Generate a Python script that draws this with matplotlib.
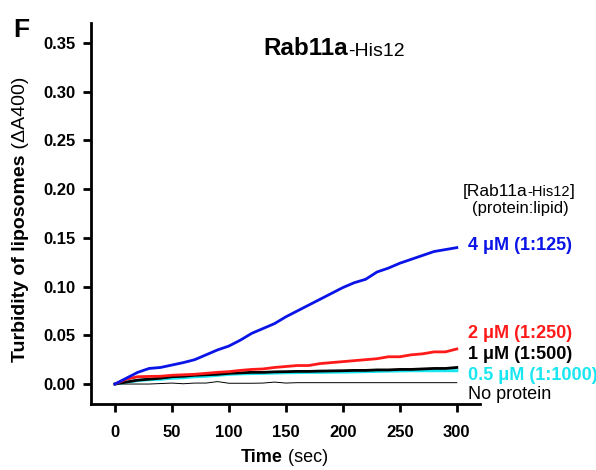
import matplotlib.pyplot as plt
import numpy as np

plt.rcParams['font.family'] = ['Liberation Sans', 'DejaVu Sans']

# Time points (sec)
time = [0, 10, 20, 30, 40, 50, 60, 70, 80, 90, 100, 110, 120, 130, 140, 150,
        160, 170, 180, 190, 200, 210, 220, 230, 240, 250, 260, 270, 280, 290, 300]

# Turbidity readings (dA400)
uM4 = [0.000, 0.006, 0.012, 0.016, 0.017, 0.0195, 0.022, 0.025, 0.030, 0.035,
       0.039, 0.045, 0.052, 0.057, 0.062, 0.069, 0.075, 0.081, 0.087, 0.093,
       0.099, 0.104, 0.1075, 0.115, 0.119, 0.124, 0.128, 0.132, 0.136, 0.138, 0.140]
uM2 = [0.000, 0.005, 0.0075, 0.0078, 0.008, 0.009, 0.0095, 0.010, 0.011, 0.012,
       0.0127, 0.014, 0.015, 0.0155, 0.017, 0.018, 0.019, 0.019, 0.021, 0.022,
       0.023, 0.024, 0.025, 0.026, 0.028, 0.028, 0.030, 0.031, 0.033, 0.033, 0.036]
uM1 = [0.000, 0.002, 0.004, 0.005, 0.006, 0.0075, 0.008, 0.009, 0.0095, 0.010,
       0.011, 0.0115, 0.012, 0.012, 0.0125, 0.0127, 0.013, 0.013, 0.0133, 0.0135,
       0.0137, 0.014, 0.014, 0.0145, 0.0145, 0.015, 0.015, 0.0155, 0.016, 0.016, 0.017]
uM05 = [0.000, 0.002, 0.0035, 0.0045, 0.005, 0.006, 0.0065, 0.0075, 0.008, 0.009,
        0.010, 0.0105, 0.0108, 0.011, 0.0113, 0.0116, 0.0118, 0.012, 0.012, 0.0122,
        0.0123, 0.0125, 0.0128, 0.013, 0.0133, 0.0135, 0.0137, 0.0137, 0.0137, 0.0137, 0.0137]
no_protein = [0.000, 0.000, 0.000, 0.000, 0.0005, 0.001, 0.0003, 0.001, 0.001, 0.0025,
              0.0008, 0.0008, 0.0008, 0.001, 0.002, 0.001, 0.0014, 0.0014, 0.0014, 0.0014,
              0.0014, 0.0014, 0.0014, 0.0014, 0.0014, 0.0014, 0.0014, 0.0014, 0.0014, 0.0014, 0.0014]

labels = ['4 \u03bcM (1:125)', '2 \u03bcM (1:250)', '1 \u03bcM (1:500)',
          '0.5 \u03bcM (1:1000)', 'No protein']
label_y = [0.1417, 0.052, 0.030, 0.009, -0.011]
colors = ['#0a14e6', '#ff1a1a', '#000000', '#19e6f0', '#000000']

fig = plt.figure(figsize=(5.96, 4.70), dpi=100)
ax = fig.add_axes([0.1527, 0.1404, 0.652, 0.8106])

# draw order: no protein first, then cyan, black, red, blue
ax.plot(time, no_protein, color='black', lw=0.7)
ax.plot(time, uM05, color=colors[3], lw=2.2)
ax.plot(time, uM1, color=colors[2], lw=2.0)
ax.plot(time, uM2, color=colors[1], lw=2.0)
ax.plot(time, uM4, color=colors[0], lw=2.0)

for i, (lab, y) in enumerate(zip(labels, label_y)):
    ax.text(309.5, y, lab, color=colors[i], fontsize=13,
            fontweight='normal' if i == 4 else 'bold',
            va='center', ha='left', clip_on=False)

ax.set_xlim(-21, 320)
ax.set_ylim(-0.0205, 0.3705)
ax.set_xticks(np.arange(0, 301, 50))
ax.set_yticks(np.arange(0, 0.351, 0.05))
ax.set_yticklabels([f'{v:.2f}' for v in np.arange(0, 0.351, 0.05)])
for s in ['top', 'right']:
    ax.spines[s].set_visible(False)
for s in ['left', 'bottom']:
    ax.spines[s].set_linewidth(2)
ax.tick_params(width=2, length=6, labelsize=12)
ax.tick_params(axis='y', pad=5)
ax.tick_params(axis='x', pad=9)
for t in ax.get_xticklabels() + ax.get_yticklabels():
    t.set_fontweight('bold')

# title with mixed styling
t1 = fig.text(0.584, 0.883, 'Rab11a', fontsize=17.5, fontweight='bold',
              ha='right', va='baseline')
ax.annotate('-His12', xy=(1, 0), xycoords=t1, fontsize=14,
            ha='left', va='bottom')

# legend header
h1 = fig.text(0.776, 0.583, '[Rab11a', fontsize=12.5, ha='left', va='baseline')
h2 = ax.annotate('-His12', xy=(1, 0), xycoords=h1, fontsize=10.5, ha='left', va='bottom')
ax.annotate(']', xy=(1, 0), xycoords=h2, fontsize=12.5, ha='left', va='bottom')
fig.text(0.873, 0.547, '(protein:lipid)', fontsize=12, ha='center', va='baseline')

# y label
yl = fig.text(0.034, 0.23, 'Turbidity of liposomes', fontsize=14, fontweight='bold',
              rotation=90, ha='center', va='bottom')
ax.annotate(' (\u0394A400)', xy=(0, 1), xycoords=yl, fontsize=14, rotation=90,
            ha='left', va='bottom')

# x label
xl = fig.text(0.475, 0.017, 'Time', fontsize=13, fontweight='bold',
              ha='right', va='baseline')
ax.annotate(' (sec)', xy=(1, 0), xycoords=xl, fontsize=13, ha='left', va='bottom')

fig.text(0.022, 0.921, 'F', fontsize=19, fontweight='bold', va='baseline')

fig.savefig('out.png', dpi=100)
